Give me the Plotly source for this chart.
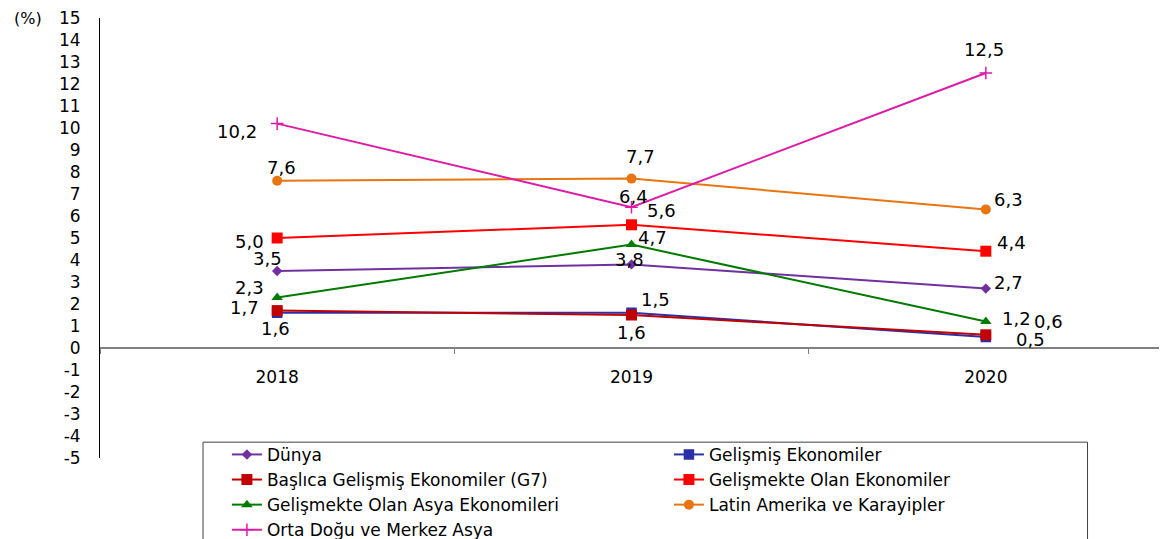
import plotly.graph_objects as go

years = ["2018", "2019", "2020"]
series_names = [
    "Dünya",
    "Gelişmiş Ekonomiler",
    "Başlıca Gelişmiş Ekonomiler (G7)",
    "Gelişmekte Olan Ekonomiler",
    "Gelişmekte Olan Asya Ekonomileri",
    "Latin Amerika ve Karayipler",
    "Orta Doğu ve Merkez Asya",
]
dunya = [3.5, 3.8, 2.7]
gelismis = [1.6, 1.6, 0.5]
g7 = [1.7, 1.5, 0.6]
gelismekte = [5.0, 5.6, 4.4]
asya = [2.3, 4.7, 1.2]
latin = [7.6, 7.7, 6.3]
ortadogu = [10.2, 6.4, 12.5]
y_ticks = list(range(-5, 16))

values = [dunya, gelismis, g7, gelismekte, asya, latin, ortadogu]
colors = ["#7030A0", "#2B2FA8", "#C00000", "#FF0000", "#007A00", "#E87511", "#DE1AA6"]
symbols = ["diamond", "square-x", "square", "square", "triangle-up", "circle", "cross-thin"]
sizes = [8, 9, 11, 11, 10, 10, 9]

# label offsets (px) for each series / point: (xshift, yshift)
offsets = [
    [(-10, 13), (-2, 5), (23, 6)],
    [(-2, -16), (0, -20), (45, -2)],
    [(-33, 3), (24, 16), (63, 13)],
    [(-28, -3), (30, 14), (26, 9)],
    [(-28, 10), (21, 7), (31, 3)],
    [(4, 13), (9, 22), (23, 10)],
    [(-40, -8), (2, 11), (-2, 24)],
]

FONT = "DejaVu Sans, Liberation Sans, Arial"

fig = go.Figure()
for name, vals, col, sym, sz in zip(series_names, values, colors, symbols, sizes):
    mk = dict(symbol=sym, size=sz, color=col,
              line=dict(color=col, width=1.5 if sym in ("cross-thin", "square-x") else 0))
    fig.add_trace(go.Scatter(
        x=years, y=vals, name=name, mode="lines+markers",
        line=dict(color=col, width=2), marker=mk,
    ))

for vals, offs in zip(values, offsets):
    for i, (yv, (dx, dy)) in enumerate(zip(vals, offs)):
        fig.add_annotation(
            x=i, y=yv, xref="x", yref="y", text=f"{yv:.1f}".replace(".", ","),
            showarrow=False, xshift=dx, yshift=dy,
            font=dict(family=FONT, size=18, color="#000000"),
        )

fig.add_annotation(x=-0.068, y=1.0227, xref="paper", yref="paper", text="(%)",
                   showarrow=False, xanchor="center", yanchor="top", borderpad=0,
                   font=dict(family=FONT, size=16, color="#000000"))

# legend box
fig.add_shape(type="rect", xref="paper", yref="paper", x0=0.0969, x1=0.929,
              y0=-0.3, y1=0.036, line=dict(color="#404040", width=1), fillcolor="white",
              layer="above")

fig.update_layout(
    width=1159, height=531,
    margin=dict(l=92, r=4, t=10, b=81, autoexpand=False),
    paper_bgcolor="white", plot_bgcolor="white",
    font=dict(family=FONT, size=17, color="#000000"),
    showlegend=True,
    legend=dict(
        orientation="h", x=0.1194, y=0.048, xanchor="left", yanchor="top",
        bgcolor="rgba(0,0,0,0)", borderwidth=0,
        font=dict(family=FONT, size=17, color="#000000"),
        entrywidth=397, entrywidthmode="pixels", itemwidth=30,
        tracegroupgap=0,
    ),
    xaxis=dict(
        type="category", range=[-0.5, 2.5], anchor="free", position=0.25,
        showline=True, linecolor="#808080", linewidth=1.5,
        ticks="outside", tickson="boundaries", ticklen=5, tickcolor="#808080",
        showgrid=False, zeroline=False, ticklabelstandoff=14, automargin=False,
        tickfont=dict(size=17),
    ),
    yaxis=dict(
        range=[-5, 15], tickvals=y_ticks, ticktext=[str(v) for v in y_ticks],
        showline=True, linecolor="#000000", linewidth=1, automargin=False,
        ticks="", showgrid=False, zeroline=False, ticklabelstandoff=15,
        ticklabeloverflow="allow",
        tickfont=dict(size=17),
    ),
)

fig.write_html("out.html")
